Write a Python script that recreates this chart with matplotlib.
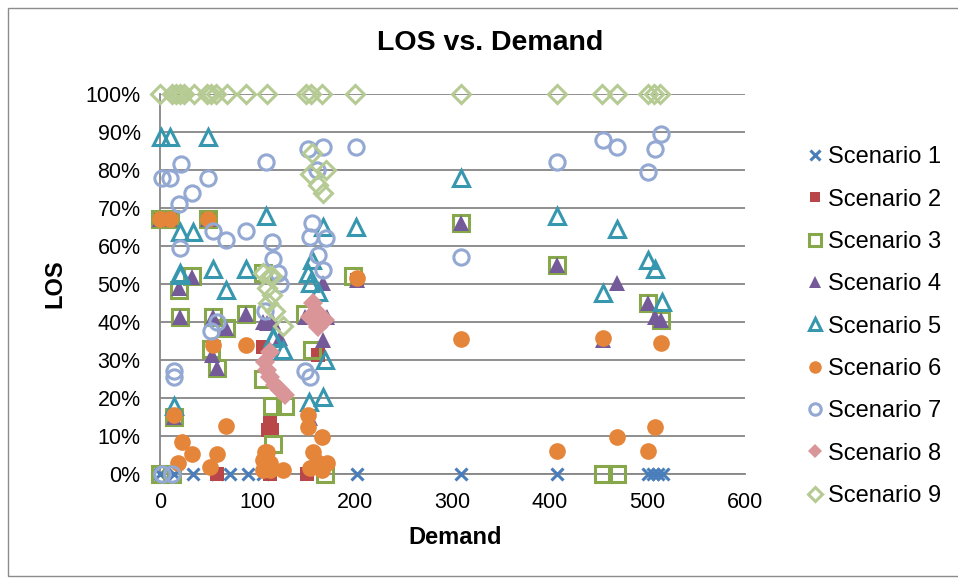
import matplotlib.pyplot as plt
from matplotlib.patches import Rectangle
from matplotlib.ticker import PercentFormatter

plt.rcParams['font.family'] = ['Liberation Sans', 'DejaVu Sans']

# demand (x) and LOS in % (y) per scenario
s1_x = [0, 14, 34, 58, 72, 90, 106, 202, 309, 407, 501, 506, 511, 516]
s1_y = [0, 0, 0, 0, 0, 0, 0, 0, 0, 0, 0, 0, 0, 0]

s2_x = [0, 10, 49, 106, 113, 111, 115, 162, 58, 113, 151, 202]
s2_y = [67, 67, 67, 33.4, 13.7, 11.6, 11.6, 31.3, 0, 0, 0, 51]

s3_x = [0, 10, 49, 33, 19, 20, 54, 88, 68, 52, 58, 14, 0, 12, 106, 156, 115, 128,
        149, 116, 169, 198, 106, 309, 407, 454, 469, 501, 514]
s3_y = [67, 67, 67, 52, 48.5, 41.3, 41.3, 42, 38.4, 33, 28, 15, 0, 0, 53, 32.6, 18, 18,
        42, 8, 0, 52, 25, 66, 55, 0, 0, 45, 40.5]

s4_x = [0, 10, 49, 33, 19, 20, 54, 88, 68, 53, 58, 106, 116, 14, 167, 149, 171, 167,
        123, 110, 154, 202, 309, 407, 469, 501, 508, 514, 454]
s4_y = [67, 67, 67, 51.8, 49, 41.3, 41.3, 42, 38.4, 31.3, 28, 40, 40, 15, 50.3, 41.3, 41.3, 35.3,
        35.8, 39.7, 14.7, 51, 66, 55, 50.3, 45, 41.3, 40.5, 35.3]

s5_x = [1, 10, 49, 109, 21, 34, 20, 54, 88, 21, 68, 116, 14, 167, 201, 156, 152,
        154, 162, 116, 126, 169, 153, 167, 309, 407, 469, 501, 508, 454, 515]
s5_y = [88.6, 88.6, 88.6, 68, 63.7, 63.7, 53, 54, 54, 52.4, 48.4, 36, 18, 65, 65, 56.3, 53,
        50.3, 48, 35.8, 32.6, 30, 19, 20.3, 78, 68, 64.5, 56.3, 54, 47.6, 45.3]

s6_x = [0, 10, 49, 54, 88, 14, 68, 23, 33, 58, 18, 51, 108, 106, 113, 202, 152, 152,
        166, 110, 113, 126, 157, 161, 171, 154, 166, 106, 309, 454, 514, 407, 469, 501, 508]
s6_y = [67, 67, 67, 34, 34, 15.5, 12.6, 8.3, 5.2, 5.2, 3, 1.8, 5.8, 3.7, 1, 51.5, 15.5, 12.4,
        9.7, 5.8, 2.9, 1, 5.8, 3.2, 2.9, 1.6, 1, 1, 35.5, 35.8, 34.5, 6, 9.7, 6, 12.4]

s7_x = [2, 10, 22, 49, 33, 19, 54, 68, 88, 109, 115, 20, 116, 58, 52, 14, 14, 2, 12,
        152, 167, 201, 161, 156, 154, 170, 162, 167, 121, 123, 108, 149, 154,
        309, 407, 454, 469, 514, 508, 501]
s7_y = [78, 78, 81.5, 78, 74, 71, 64, 61.5, 64, 82, 61, 59.5, 56.5, 40, 37.6, 27, 25.5, 0, 0,
        85.5, 86, 86, 80, 66, 62.4, 62, 57.6, 53.7, 53, 50, 43, 27, 25.5,
        57, 82, 88, 86, 89.5, 85.5, 79.5]

s8_x = [157, 154, 162, 169, 162, 113, 108, 110, 113, 118, 123, 128]
s8_y = [45, 41.3, 42.3, 40.5, 38.7, 32, 29.5, 27.4, 25.5, 23.4, 22, 20.8]

s9_x = [0, 12, 16, 21, 25, 35, 48, 52, 57, 69, 88, 110, 150, 155, 166, 200, 309, 407,
        453, 469, 501, 507, 513, 156, 154, 170, 162, 167, 106, 115, 113, 110, 115, 111,
        118, 126]
s9_y = [100, 100, 100, 100, 100, 100, 100, 100, 100, 100, 100, 100, 100, 100, 100, 100, 100, 100,
        100, 100, 100, 100, 100, 84.5, 79, 80, 76, 74, 53, 52, 52, 49, 47, 45,
        43, 39]

series = [
    ('Scenario 1', s1_x, s1_y, dict(marker='x', color='#4A7EBB', ms=9, mew=2.2)),
    ('Scenario 2', s2_x, s2_y, dict(marker='s', color='#B9474A', ms=10, mew=0)),
    ('Scenario 3', s3_x, s3_y, dict(marker='s', mfc='none', mec='#87A84A', ms=11, mew=2.2)),
    ('Scenario 4', s4_x, s4_y, dict(marker='^', color='#755A99', ms=12, mew=0)),
    ('Scenario 5', s5_x, s5_y, dict(marker='^', mfc='none', mec='#3797AE', ms=11, mew=2.2)),
    ('Scenario 6', s6_x, s6_y, dict(marker='o', color='#E5853A', ms=12, mew=0)),
    ('Scenario 7', s7_x, s7_y, dict(marker='o', mfc='none', mec='#93A9D3', ms=11, mew=2.2)),
    ('Scenario 8', s8_x, s8_y, dict(marker='D', color='#D99597', ms=10, mew=0)),
    ('Scenario 9', s9_x, s9_y, dict(marker='D', mfc='none', mec='#B5CB93', ms=9, mew=2.2)),
]

W, H = 958, 579
fig = plt.figure(figsize=(W / 100, H / 100), dpi=100)
ax = fig.add_axes([160 / W, 1 - 474 / H, 585 / W, 380 / H])

# chart area border
fig.patches.append(Rectangle((8 / W, 3 / H), 1.0, 1 - 11 / H, transform=fig.transFigure,
                             fill=False, edgecolor='#8C8C8C', linewidth=1))

handles = []
for name, xs, ys, style in series:
    h, = ax.plot(xs, ys, linestyle='none', label=name, clip_on=False, zorder=3, **style)
    handles.append(h)

ax.set_xlim(0, 600)
ax.set_ylim(0, 100)
ax.set_xticks(range(0, 601, 100))
ax.set_yticks(range(0, 101, 10))
ax.yaxis.set_major_formatter(PercentFormatter(decimals=0))
ax.grid(axis='y', color='#868686', linewidth=1.3, zorder=0)
ax.set_axisbelow(True)
for side in ['top', 'right']:
    ax.spines[side].set_visible(False)
for side in ['left', 'bottom']:
    ax.spines[side].set_color('#868686')
    ax.spines[side].set_linewidth(1.3)
ax.tick_params(axis='y', length=0, labelsize=15.5, pad=14)
ax.tick_params(axis='x', length=0, labelsize=15.5, pad=13)

fig.text(490 / W, 1 - 43 / H, 'LOS vs. Demand', fontsize=20.5, fontweight='bold',
         ha='center', va='center')
fig.text(455 / W, 1 - 537 / H, 'Demand', fontsize=17, fontweight='bold',
         ha='center', va='center')
fig.text(55 / W, 1 - 284 / H, 'LOS', fontsize=17, fontweight='bold',
         ha='center', va='center', rotation=90)

ax.legend(handles=handles, loc='upper left', bbox_to_anchor=(797 / W, 1 - 137 / H),
          bbox_transform=fig.transFigure, frameon=False, fontsize=17,
          handlelength=0.7, handletextpad=0.2, labelspacing=0.86, markerscale=0.75,
          borderaxespad=0)

fig.savefig('out.png', dpi=100)
